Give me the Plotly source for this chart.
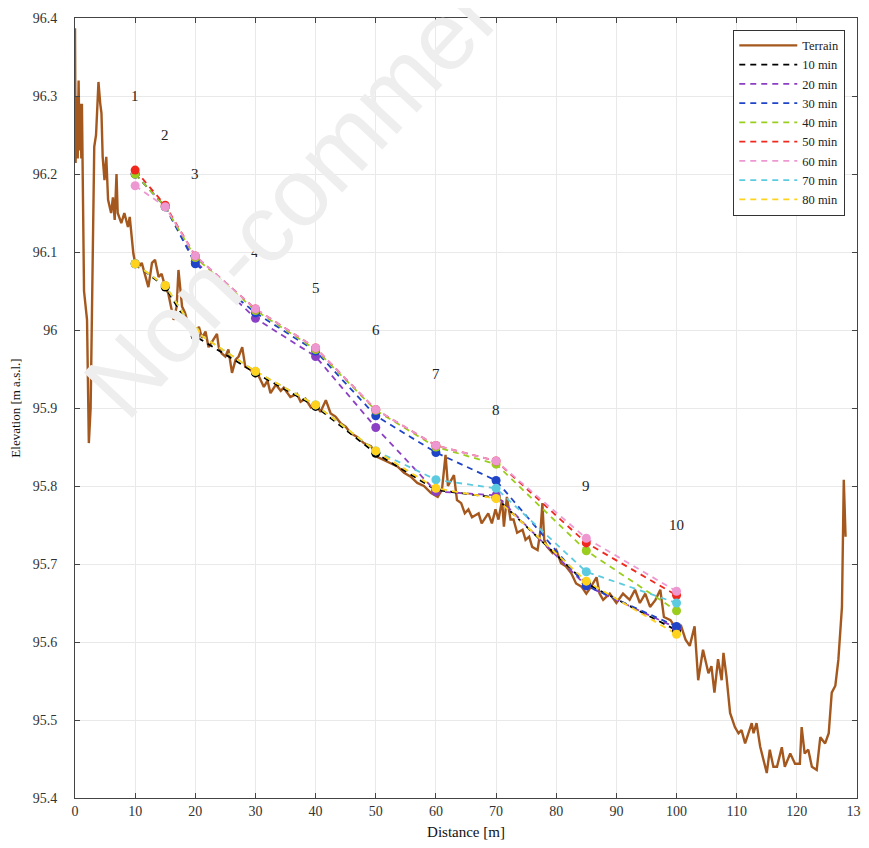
import plotly.graph_objects as go

# ---------------- data ----------------
terrain_x = [0.0, 0.1, 0.3, 0.45, 0.6, 0.75, 0.9, 1.05, 1.15, 1.3, 1.5, 2.0, 2.3, 2.6, 2.8, 3.0, 3.2, 3.5,
             3.9, 4.2, 4.4, 4.6, 4.9, 5.2, 5.5, 6.0, 6.3, 6.6, 6.9, 7.1, 7.7, 8.2, 8.8, 9.1, 9.4, 9.7,
             10.0, 10.6, 11.1, 11.7, 12.2, 12.8, 13.3, 13.9, 14.4, 15.0, 15.5, 16.4, 16.9, 17.2, 17.8,
             18.3, 18.9, 19.4, 20.0, 20.6, 21.1, 21.7, 22.2, 22.8, 23.6, 23.9, 24.4, 25.0, 25.5, 26.1,
             26.7, 27.2, 27.8, 28.3, 29.2, 30.0, 30.3, 31.4, 32.0, 32.5, 33.4, 34.2, 34.7, 35.8, 36.9,
             37.5, 38.3, 39.2, 40.0, 40.8, 41.7, 42.5, 43.3, 44.2, 45.0, 45.8, 46.9, 48.0, 49.2, 50.3,
             51.4, 52.5, 53.6, 54.7, 55.8, 56.9, 58.0, 59.2, 60.3, 61.0, 61.6, 62.0, 63.0, 63.5, 64.2,
             64.8, 65.4, 66.0, 67.1, 67.6, 68.7, 69.3, 69.9, 70.4, 71.0, 71.3, 71.8, 72.4, 72.9, 73.5,
             74.4, 74.9, 75.5, 76.0, 76.9, 77.4, 77.7, 78.0, 78.5, 79.4, 80.0, 80.8, 81.6, 82.5, 83.3,
             84.2, 85.0, 85.8, 86.7, 87.2, 87.8, 88.9, 90.0, 91.1, 92.2, 93.1, 93.9, 94.8, 95.6, 96.5,
             97.3, 97.9, 99.0, 100.1, 100.7, 101.5, 102.2, 103.0, 103.6, 104.4, 105.3, 105.8, 106.3,
             106.9, 107.5, 107.8, 108.3, 108.9, 109.7, 110.3, 110.8, 111.4, 111.9, 112.5, 112.8, 113.3,
             113.9, 114.4, 115.0, 115.5, 116.1, 116.7, 117.5, 118.0, 118.9, 119.7, 120.5, 120.8, 121.3,
             121.9, 122.5, 123.3, 123.9, 124.7, 125.3, 125.8, 126.4, 126.9, 127.2, 127.5, 127.8, 128.1]
terrain_y = [96.387, 96.214, 96.30, 96.22, 96.32, 96.23, 96.29, 96.22, 96.29, 96.13, 96.05, 96.013, 95.855,
             95.90, 96.00, 96.124, 96.235, 96.25, 96.318, 96.29, 96.278, 96.222, 96.192, 96.222, 96.167,
             96.15, 96.17, 96.141, 96.20, 96.15, 96.137, 96.15, 96.132, 96.145, 96.124, 96.098, 96.086,
             96.081, 96.086, 96.068, 96.055, 96.086, 96.09, 96.068, 96.072, 96.055, 96.047, 96.013, 96.03,
             96.077, 96.03, 96.022, 96.004, 96.0, 95.996, 96.004, 95.99, 95.998, 95.978, 95.985, 95.995,
             95.978, 95.97, 95.966, 95.975, 95.945, 95.962, 95.966, 95.978, 95.953, 95.949, 95.94, 95.945,
             95.927, 95.935, 95.919, 95.93, 95.922, 95.926, 95.914, 95.918, 95.908, 95.912, 95.901, 95.905,
             95.895, 95.91, 95.893, 95.889, 95.88, 95.876, 95.868, 95.863, 95.855, 95.851, 95.837, 95.833,
             95.829, 95.825, 95.817, 95.812, 95.804, 95.80, 95.791, 95.786, 95.795, 95.84, 95.80, 95.814,
             95.782, 95.778, 95.765, 95.77, 95.76, 95.765, 95.752, 95.765, 95.752, 95.77, 95.757, 95.782,
             95.748, 95.786, 95.757, 95.757, 95.74, 95.744, 95.731, 95.735, 95.722, 95.718, 95.744, 95.778,
             95.731, 95.722, 95.714, 95.718, 95.701, 95.697, 95.688, 95.675, 95.671, 95.662, 95.671, 95.683,
             95.662, 95.654, 95.662, 95.65, 95.662, 95.654, 95.667, 95.65, 95.662, 95.645, 95.654, 95.667,
             95.632, 95.628, 95.615, 95.622, 95.603, 95.595, 95.62, 95.551, 95.59, 95.56, 95.569, 95.535,
             95.578, 95.551, 95.586, 95.556, 95.509, 95.491, 95.483, 95.487, 95.47, 95.483, 95.496, 95.483,
             95.496, 95.466, 95.449, 95.432, 95.462, 95.44, 95.44, 95.465, 95.44, 95.457, 95.444, 95.444,
             95.491, 95.457, 95.462, 95.44, 95.436, 95.478, 95.47, 95.483, 95.535, 95.544, 95.577, 95.619,
             95.645, 95.808, 95.735]

section_x = [10, 15, 20, 30, 40, 50, 60, 70, 85, 100]
section_labels = ["1", "2", "3", "4", "5", "6", "7", "8", "9", "10"]
section_label_y = [96.30, 96.25, 96.20, 96.10, 96.054, 96.00, 95.944, 95.898, 95.80, 95.75]

series_names = ["10 min", "20 min", "30 min", "40 min", "50 min", "60 min", "70 min", "80 min"]
wl_10 = [96.085, 96.055, 95.992, 95.945, 95.902, 95.842, 95.795, 95.785, 95.675, 95.615]
wl_20 = [96.200, 96.158, 96.088, 96.015, 95.966, 95.875, 95.793, 95.788, 95.672, 95.618]
wl_30 = [96.200, 96.158, 96.085, 96.022, 95.973, 95.890, 95.843, 95.807, 95.672, 95.620]
wl_40 = [96.200, 96.158, 96.093, 96.025, 95.975, 95.897, 95.850, 95.828, 95.717, 95.640]
wl_50 = [96.205, 96.160, 96.095, 96.027, 95.977, 95.898, 95.852, 95.832, 95.727, 95.660]
wl_60 = [96.185, 96.158, 96.095, 96.027, 95.977, 95.898, 95.852, 95.832, 95.733, 95.665]
wl_70 = [96.085, 96.057, 95.998, 95.947, 95.904, 95.845, 95.808, 95.797, 95.690, 95.650]
wl_80 = [96.085, 96.057, 95.998, 95.947, 95.904, 95.845, 95.797, 95.784, 95.678, 95.610]
series_values = [wl_10, wl_20, wl_30, wl_40, wl_50, wl_60, wl_70, wl_80]

x_ticks = [0, 10, 20, 30, 40, 50, 60, 70, 80, 90, 100, 110, 120, 130]
y_ticks = [95.4, 95.5, 95.6, 95.7, 95.8, 95.9, 96.0, 96.1, 96.2, 96.3, 96.4]
y_tick_text = ["95.4", "95.5", "95.6", "95.7", "95.8", "95.9", "96", "96.1", "96.2", "96.3", "96.4"]

# ---------------- styles ----------------
series_colors = ["#000000", "#8A3FC4", "#1F44C8", "#9ACD1E", "#F0281E", "#EE98D2", "#5CCBE0", "#FFD21E"]
terrain_color = "#A4581E"
serif = "Liberation Serif, Times New Roman, serif"
pad = "\u00a0" * 4  # gap between y tick labels and the axis

fig = go.Figure()

fig.add_trace(go.Scatter(x=terrain_x, y=terrain_y, mode="lines", name="Terrain",
                         line=dict(color=terrain_color, width=2.4)))

for name, vals, col in zip(series_names, series_values, series_colors):
    fig.add_trace(go.Scatter(x=section_x, y=vals, mode="lines", name=name,
                             line=dict(color=col, width=1.8, dash="6px,5px")))

for vals, col in zip(series_values, series_colors):
    fig.add_trace(go.Scatter(x=section_x, y=vals, mode="markers", showlegend=False,
                             marker=dict(color=col, size=9), hoverinfo="skip"))

for xv, yv, t in zip(section_x, section_label_y, section_labels):
    fig.add_annotation(x=xv, y=yv, text=t, showarrow=False,
                       font=dict(family=serif, size=15, color="#222222"))

# watermark
fig.add_annotation(xref="paper", yref="paper", x=0.339, y=0.837, xanchor="center", yanchor="middle",
                   text="Non-commercial", showarrow=False, textangle=-47,
                   font=dict(family="Liberation Sans, Arial, sans-serif", size=96, color="#eeeeee"))

axis_common = dict(showgrid=True, gridcolor="#e9e9e9", gridwidth=1, zeroline=False,
                   showline=True, linecolor="#444444", linewidth=1, mirror="ticks",
                   ticks="inside", ticklen=5, tickcolor="#444444", automargin=False,
                   tickfont=dict(family=serif, size=14, color="#333333"))

fig.update_xaxes(range=[0, 130], tickvals=x_ticks,
                 title=dict(text="Distance [m]", font=dict(family=serif, size=15, color="#111111"),
                            standoff=10),
                 **axis_common)
fig.update_yaxes(range=[95.4, 96.4], tickvals=y_ticks, ticktext=[t + pad for t in y_tick_text],
                 title=dict(text="Elevation [m a.s.l.]", font=dict(family=serif, size=13, color="#111111"),
                            standoff=12),
                 **axis_common)

# the page body adds an 8px offset, so the figure is sized to fit inside the 869x848 window
fig.update_layout(
    width=861, height=832,
    margin=dict(l=67, r=12, t=10, b=42),
    plot_bgcolor="white", paper_bgcolor="white",
    legend=dict(x=0.985, y=0.985, xanchor="right", yanchor="top",
                bgcolor="white", bordercolor="#333333", borderwidth=1,
                font=dict(family=serif, size=12.5, color="#222222"),
                itemwidth=58, tracegroupgap=0),
    showlegend=True,
)

fig.write_html("out.html")
